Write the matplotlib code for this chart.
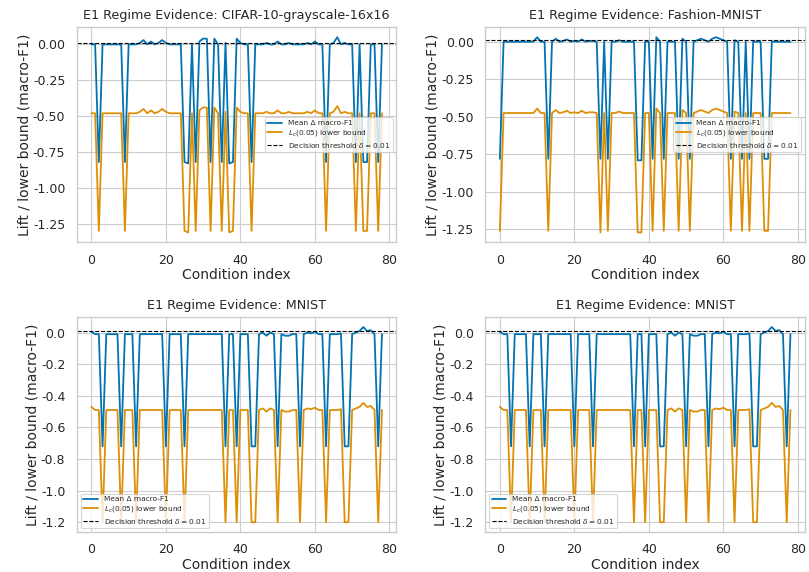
import matplotlib
matplotlib.use("Agg")
import matplotlib.pyplot as plt
from matplotlib.ticker import MultipleLocator
import seaborn as sns
import numpy as np

# Per-condition values (79 conditions, index 0..78)
cifar_mean = [
    0.00, 0.00, -0.82, 0.00, 0.00, 0.00, 0.00, 0.00, 0.00, -0.82,
    0.00, 0.00, 0.00, 0.01, 0.03, 0.00, 0.02, 0.00, 0.01, 0.03,
    0.01, 0.00, 0.00, 0.00, 0.00, -0.82, -0.83, 0.00, -0.82, 0.02,
    0.04, 0.04, -0.82, 0.04, 0.00, -0.82, 0.01, -0.83, -0.82, 0.04,
    0.01, 0.00, 0.00, -0.82, 0.00, 0.00, 0.00, 0.01, 0.00, 0.00,
    0.02, 0.00, 0.00, 0.01, 0.00, 0.00, 0.00, 0.00, 0.01, 0.00,
    0.02, 0.00, 0.00, -0.82, 0.00, 0.01, 0.05, 0.00, 0.01, 0.00,
    0.00, -0.82, 0.00, -0.82, -0.82, 0.00, 0.00, -0.82, 0.00,
]
cifar_lower = [
    -0.48, -0.48, -1.30, -0.48, -0.48, -0.48, -0.48, -0.48, -0.48, -1.30,
    -0.48, -0.48, -0.48, -0.47, -0.45, -0.48, -0.46, -0.48, -0.47, -0.45,
    -0.47, -0.48, -0.48, -0.48, -0.48, -1.30, -1.31, -0.48, -1.30, -0.46,
    -0.44, -0.44, -1.30, -0.44, -0.48, -1.30, -0.47, -1.31, -1.30, -0.44,
    -0.47, -0.48, -0.48, -1.30, -0.48, -0.48, -0.48, -0.47, -0.48, -0.48,
    -0.46, -0.48, -0.48, -0.47, -0.48, -0.48, -0.48, -0.48, -0.47, -0.48,
    -0.46, -0.48, -0.48, -1.30, -0.48, -0.47, -0.43, -0.48, -0.47, -0.48,
    -0.48, -1.30, -0.48, -1.30, -1.30, -0.48, -0.48, -1.30, -0.48,
]

fashion_mean = [
    -0.78, 0.00, 0.00, 0.00, 0.00, 0.00, 0.00, 0.00, 0.00, 0.00,
    0.03, 0.00, 0.00, -0.78, 0.00, 0.02, 0.00, 0.005, 0.015, 0.00,
    0.005, 0.00, 0.015, 0.00, 0.005, 0.005, 0.00, -0.78, 0.00, -0.78,
    0.00, 0.00, 0.01, 0.00, 0.00, 0.00, 0.00, -0.79, -0.79, 0.00,
    0.00, -0.78, 0.03, 0.00, -0.78, 0.00, 0.00, 0.00, -0.78, 0.02,
    0.00, -0.78, 0.00, 0.01, 0.02, 0.01, 0.00, 0.02, 0.03, 0.02,
    0.01, 0.00, -0.78, 0.01, 0.00, -0.78, 0.00, -0.78, 0.00, 0.00,
    0.00, -0.78, -0.78, 0.00, 0.00, 0.00, 0.00, 0.00, 0.00,
]
fashion_lower = [
    -1.26, -0.475, -0.475, -0.475, -0.475, -0.475, -0.475, -0.475, -0.475, -0.475,
    -0.445, -0.475, -0.475, -1.26, -0.475, -0.455, -0.475, -0.47, -0.46, -0.475,
    -0.47, -0.475, -0.46, -0.475, -0.47, -0.47, -0.475, -1.27, -0.475, -1.26,
    -0.475, -0.475, -0.465, -0.475, -0.475, -0.475, -0.475, -1.27, -1.27, -0.475,
    -0.475, -1.26, -0.445, -0.475, -1.26, -0.475, -0.475, -0.475, -1.26, -0.455,
    -0.475, -1.26, -0.475, -0.465, -0.455, -0.465, -0.475, -0.455, -0.445, -0.455,
    -0.465, -0.475, -1.26, -0.465, -0.475, -1.26, -0.475, -1.26, -0.475, -0.475,
    -0.475, -1.26, -1.26, -0.475, -0.475, -0.475, -0.475, -0.475, -0.475,
]

mnist_mean = [
    0.005, -0.01, -0.01, -0.72, -0.01, -0.01, -0.01, -0.01, -0.72, -0.01,
    -0.01, -0.01, -0.72, -0.01, -0.01, -0.01, -0.01, -0.01, -0.01, -0.01,
    -0.72, -0.01, -0.01, -0.01, -0.01, -0.72, -0.01, -0.01, -0.01, -0.01,
    -0.01, -0.01, -0.01, -0.01, -0.01, -0.01, -0.72, -0.01, -0.01, -0.72,
    -0.01, -0.01, -0.01, -0.72, -0.72, -0.01, 0.00, -0.02, 0.00, -0.01,
    -0.72, -0.01, -0.02, -0.02, -0.01, -0.01, -0.72, -0.01, 0.00, -0.005,
    0.005, -0.01, -0.01, -0.72, -0.01, -0.01, -0.01, -0.005, -0.72, -0.72,
    -0.01, 0.00, 0.01, 0.035, 0.01, 0.015, -0.01, -0.72, -0.01,
]
mnist_lower = [
    -0.47, -0.49, -0.49, -1.20, -0.49, -0.49, -0.49, -0.49, -1.20, -0.49,
    -0.49, -0.49, -1.20, -0.49, -0.49, -0.49, -0.49, -0.49, -0.49, -0.49,
    -1.20, -0.49, -0.49, -0.49, -0.49, -1.20, -0.49, -0.49, -0.49, -0.49,
    -0.49, -0.49, -0.49, -0.49, -0.49, -0.49, -1.20, -0.49, -0.49, -1.20,
    -0.49, -0.49, -0.49, -1.20, -1.20, -0.49, -0.48, -0.50, -0.48, -0.49,
    -1.20, -0.49, -0.50, -0.50, -0.49, -0.49, -1.20, -0.49, -0.48, -0.485,
    -0.475, -0.49, -0.49, -1.20, -0.49, -0.49, -0.49, -0.485, -1.20, -1.20,
    -0.49, -0.48, -0.47, -0.445, -0.47, -0.465, -0.49, -1.20, -0.49,
]

threshold = 0.01

# name, mean, lower bound, legend location, y tick step
panels = [
    ("CIFAR-10-grayscale-16x16", cifar_mean, cifar_lower, "center right", 0.25),
    ("Fashion-MNIST", fashion_mean, fashion_lower, "center right", 0.25),
    ("MNIST", mnist_mean, mnist_lower, "lower left", 0.2),
    ("MNIST", mnist_mean, mnist_lower, "lower left", 0.2),
]


def main():
    sns.set_theme(style="whitegrid", context="paper", palette="colorblind")
    plt.rcParams["axes.unicode_minus"] = False
    colors = sns.color_palette("colorblind")

    fig, axes = plt.subplots(2, 2, figsize=(8.09, 5.72), dpi=100)
    fig.subplots_adjust(left=0.095, right=0.995, top=0.952, bottom=0.07,
                        wspace=0.278, hspace=0.35)

    for ax, (name, mean, lower, loc, step) in zip(axes.flat, panels):
        idx = np.arange(len(mean))
        ax.plot(idx, mean, color=colors[0], lw=1.3, label="Mean Δ macro-F1")
        ax.plot(idx, lower, color=colors[1], lw=1.3, label="$L_c(0.05)$ lower bound")
        ax.axhline(threshold, color="black", ls="--", lw=0.8,
                   label=r"Decision threshold $\delta = 0.01$")
        ax.set_title(f"E1 Regime Evidence: {name}", fontsize=9.2)
        ax.set_xlabel("Condition index", fontsize=10, labelpad=1)
        ax.set_ylabel("Lift / lower bound (macro-F1)", fontsize=10, labelpad=1)
        ax.tick_params(labelsize=9)
        ax.set_xticks([0, 20, 40, 60, 80])
        ax.yaxis.set_major_locator(MultipleLocator(step))
        ax.legend(loc=loc, fontsize=5.3, framealpha=0.8, labelspacing=0.3,
                  borderpad=0.35, handlelength=2.0)

    plt.savefig("out.png", dpi=100)
    plt.close()


if __name__ == "__main__":
    main()
